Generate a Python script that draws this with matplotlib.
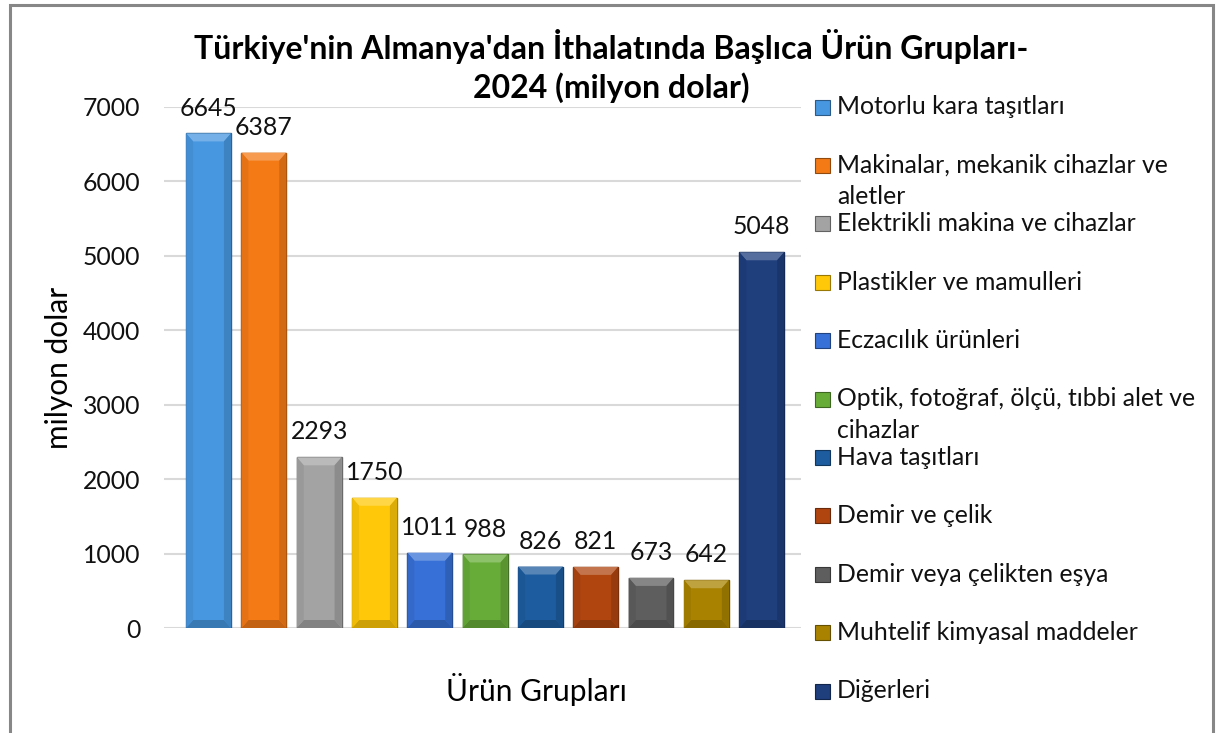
import matplotlib
matplotlib.use("Agg")
import matplotlib.pyplot as plt
from matplotlib.patches import Polygon, Rectangle
import numpy as np

plt.rcParams['font.family'] = ['Lato', 'DejaVu Sans']

# data
categories = [
    "Motorlu kara taşıtları",
    "Makinalar, mekanik cihazlar ve\naletler",
    "Elektrikli makina ve cihazlar",
    "Plastikler ve mamulleri",
    "Eczacılık ürünleri",
    "Optik, fotoğraf, ölçü, tıbbi alet ve\ncihazlar",
    "Hava taşıtları",
    "Demir ve çelik",
    "Demir veya çelikten eşya",
    "Muhtelif kimyasal maddeler",
    "Diğerleri",
]
values = [6645, 6387, 2293, 1750, 1011, 988, 826, 821, 673, 642, 5048]
colors = ["#4797E0", "#F47A16", "#A3A3A3", "#FFC808", "#3770D6", "#67AC38",
          "#1D5C9E", "#B04510", "#5E5E5E", "#A98300", "#1E3E7C"]
yticks = [0, 1000, 2000, 3000, 4000, 5000, 6000, 7000]

title = "Türkiye'nin Almanya'dan İthalatında Başlıca Ürün Grupları-\n2024 (milyon dolar)"
xlabel = "Ürün Grupları"
ylabel = "milyon dolar"

W, H = 1219, 733
fig = plt.figure(figsize=(W / 100, H / 100), dpi=100)
ax = fig.add_axes([164 / W, 105 / H, 637 / W, 521 / H])


def shade(c, f):
    rgb = np.array(matplotlib.colors.to_rgb(c))
    if f > 0:
        rgb = rgb + (1 - rgb) * f
    else:
        rgb = rgb * (1 + f)
    return tuple(np.clip(rgb, 0, 1))


x = np.arange(len(values))
bars = ax.bar(x, values, width=0.81, color=colors, zorder=3,
              edgecolor=[shade(c, -0.35) for c in colors], linewidth=1.0)

# bevel look on each bar
ppu_x = 637 / (10.71 + 0.805)
ppu_y = 521 / 7000
bx = 7 / ppu_x
by = 8 / ppu_y
for b, c in zip(bars, colors):
    x0, w, h = b.get_x(), b.get_width(), b.get_height()
    x1 = x0 + w
    top = Polygon([(x0, h), (x1, h), (x1 - bx, h - by), (x0 + bx, h - by)],
                  closed=True, facecolor=shade(c, 0.25), edgecolor='none', zorder=4)
    bot = Polygon([(x0, 0), (x1, 0), (x1 - bx, by), (x0 + bx, by)],
                  closed=True, facecolor=shade(c, -0.2), edgecolor='none', zorder=4)
    left = Polygon([(x0, 0), (x0 + bx, by), (x0 + bx, h - by), (x0, h)],
                   closed=True, facecolor=shade(c, -0.06), edgecolor='none', zorder=4)
    right = Polygon([(x1, 0), (x1 - bx, by), (x1 - bx, h - by), (x1, h)],
                    closed=True, facecolor=shade(c, -0.14), edgecolor='none', zorder=4)
    for p in (top, bot, left, right):
        ax.add_patch(p)
    ax.annotate(f"{int(h)}", (b.get_x() + w / 2, h), xytext=(0, 10),
                textcoords="offset points", ha="center", va="bottom",
                fontsize=17.8, color="#111111", zorder=5)

ax.set_xlim(-0.805, 10.71)
ax.set_ylim(0, 7000)
ax.set_yticks(yticks)
ax.set_yticklabels([str(t) for t in yticks], fontsize=17.8, color="#111111")
ax.set_xticks([])
ax.tick_params(axis='y', length=0, pad=17)
for s in ax.spines.values():
    s.set_visible(False)
ax.yaxis.grid(True, color="#D9D9D9", linewidth=1.5, zorder=0)
ax.set_axisbelow(True)

ax.set_xlabel(xlabel, fontsize=21.5)
ax.xaxis.set_label_coords((536 - 164) / 637, -(690 - 628) / 521, transform=ax.transAxes)
ax.xaxis.label.set_va("center")
ax.set_ylabel(ylabel, fontsize=21.5)
ax.yaxis.set_label_coords((59 - 164) / 637, (733 - 368 - 105) / 521, transform=ax.transAxes)
ax.yaxis.label.set_va("center")

fig.text(611 / W, 1 - 47 / H, title.split("\n")[0], ha="center", va="center",
         fontsize=23, fontweight="bold")
fig.text(611 / W, 1 - 88 / H, title.split("\n")[1], ha="center", va="center",
         fontsize=23, fontweight="bold")

# legend drawn by hand to keep Excel's fixed row spacing
for i, (lab, c) in enumerate(zip(categories, colors)):
    yc = 107 + i * 58.4
    fig.patches.append(Rectangle((815 / W, 1 - (yc + 7.5) / H), 15 / W, 15 / H,
                                 transform=fig.transFigure, facecolor=c,
                                 edgecolor=shade(c, -0.4), linewidth=0.8))
    for j, line in enumerate(lab.split("\n")):
        fig.text(837 / W, 1 - (yc + j * 31) / H, line, ha="left", va="center",
                 fontsize=17.8, color="#111111")

# outer frame
fig.patches.append(Rectangle((10 / W, -0.05), 1203 / W, 1.05 - 5 / H,
                             transform=fig.transFigure, fill=False,
                             edgecolor="#878787", linewidth=2.2))

fig.savefig("out.png", dpi=100)
